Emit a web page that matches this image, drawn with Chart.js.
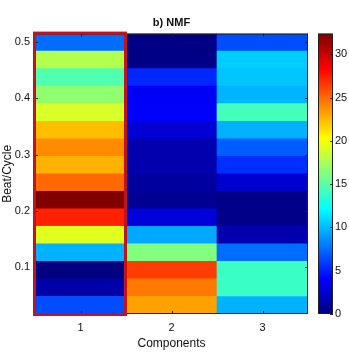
<!DOCTYPE html>
<html>
<head>
<meta charset="utf-8">
<script src="https://cdn.jsdelivr.net/npm/chart.js@4.4.1/dist/chart.umd.min.js"></script>
<style>
  html, body { margin: 0; padding: 0; background: #fff; }
  #wrap { position: relative; width: 349px; height: 354px; }
</style>
</head>
<body>
<div id="wrap"><canvas id="c" width="349" height="354"></canvas></div>
<script>
// x categories (NMF components)
var components = ['1', '2', '3'];
// row centres on the beat/cycle axis, bottom to top
var beats = [0.03125, 0.0625, 0.09375, 0.125, 0.15625, 0.1875, 0.21875, 0.25,
             0.28125, 0.3125, 0.34375, 0.375, 0.40625, 0.4375, 0.46875, 0.5];
// cell values per component, bottom to top
var comp1 = [6.5, 1.3, 0.0, 9.7, 19.3, 27.3, 32.4, 25.0, 22.7, 23.9, 22.3, 19.0, 16.7, 14.7, 17.8, 7.5];
var comp2 = [23.2, 24.5, 26.4, 16.2, 9.4, 2.8, 0.6, 1.0, 1.5, 1.4, 2.7, 4.0, 3.8, 5.3, 0.2, 0.2];
var comp3 = [9.7, 14.0, 14.0, 7.5, 1.4, 0.3, 0.3, 2.5, 5.5, 7.0, 9.7, 14.3, 9.8, 10.3, 10.6, 6.5];
var yTicks = [0.1, 0.2, 0.3, 0.4, 0.5];
var cbTicks = [0, 5, 10, 15, 20, 25, 30];
var cMin = 0, cMax = 32.4;

var FONT = "'Liberation Sans', Arial, sans-serif";
var INK = '#111';

function jetRGB(t) {
  t = Math.max(0, Math.min(1, t));
  function ch(x) { return Math.round(255 * Math.max(0, Math.min(1, 1.5 - Math.abs(4 * t - x)))); }
  return 'rgb(' + ch(3) + ',' + ch(2) + ',' + ch(1) + ')';
}
function jet(v) { return jetRGB((v - cMin) / (cMax - cMin)); }

var half = (beats[1] - beats[0]) / 2;
var cols = [comp1, comp2, comp3];

var datasets = beats.map(function (b, i) {
  return {
    data: components.map(function () { return [b - half, b + half]; }),
    backgroundColor: cols.map(function (col) { return jet(col[i]); }),
    borderWidth: 0,
    grouped: false,
    barPercentage: 1,
    categoryPercentage: 1,
    yAxisID: 'y'
  };
});

var decor = {
  id: 'decor',
  afterDatasetsDraw: function (chart) {
    var ctx = chart.ctx, a = chart.chartArea;
    var xs = chart.scales.x, ys = chart.scales.y, cb = chart.scales.cb;
    ctx.save();
    // axes box
    ctx.strokeStyle = '#222';
    ctx.lineWidth = 1;
    ctx.strokeRect(a.left + 0.5, a.top + 0.5, a.right - a.left - 1, a.bottom - a.top - 1);
    // inward ticks
    ctx.beginPath();
    yTicks.forEach(function (v) {
      var y = Math.round(ys.getPixelForValue(v)) + 0.5;
      ctx.moveTo(a.left, y); ctx.lineTo(a.left + 3, y);
      ctx.moveTo(a.right, y); ctx.lineTo(a.right - 3, y);
    });
    components.forEach(function (c, i) {
      var x = Math.round(xs.getPixelForValue(i)) + 0.5;
      ctx.moveTo(x, a.bottom); ctx.lineTo(x, a.bottom - 3);
      ctx.moveTo(x, a.top); ctx.lineTo(x, a.top + 3);
    });
    ctx.stroke();

    // highlight box round component 1
    var colW = xs.getPixelForValue(1) - xs.getPixelForValue(0);
    var x0 = xs.getPixelForValue(0) - colW / 2;
    ctx.strokeStyle = '#c4121c';
    ctx.lineWidth = 3;
    ctx.strokeRect(x0 - 0.5, a.top - 0.5, colW, a.bottom - a.top + 1);

    // colour bar
    var bx = a.right + 10, bw = 15;
    var top = cb.getPixelForValue(cMax), bot = cb.getPixelForValue(cMin);
    var g = ctx.createLinearGradient(0, bot, 0, top);
    for (var k = 0; k <= 32; k++) g.addColorStop(k / 32, jetRGB(k / 32));
    ctx.fillStyle = g;
    ctx.fillRect(bx, top, bw, bot - top);
    ctx.strokeStyle = '#222';
    ctx.lineWidth = 1;
    ctx.strokeRect(bx + 0.5, top + 0.5, bw - 1, bot - top - 1);
    ctx.beginPath();
    cbTicks.forEach(function (v) {
      var y = Math.round(cb.getPixelForValue(v)) + 0.5;
      ctx.moveTo(bx + bw, y); ctx.lineTo(bx + bw - 3, y);
    });
    ctx.stroke();
    ctx.restore();
  }
};

new Chart(document.getElementById('c'), {
  type: 'bar',
  data: { labels: components, datasets: datasets },
  options: {
    responsive: false,
    devicePixelRatio: 1,
    animation: false,
    layout: { padding: 0 },
    plugins: {
      legend: { display: false },
      tooltip: { enabled: false },
      title: {
        display: true,
        text: 'b) NMF',
        fullSize: false,
        color: INK,
        font: { family: FONT, size: 11, weight: 'bold' },
        padding: { top: 3, bottom: 3.8 }
      }
    },
    scales: {
      x: {
        type: 'category',
        offset: true,
        grid: { display: false, drawTicks: false },
        border: { display: false },
        ticks: { padding: 7, color: INK, font: { family: FONT, size: 11 } },
        title: { display: true, text: 'Components', color: INK,
                 font: { family: FONT, size: 12 }, padding: { top: 0, bottom: 3 } },
        afterFit: function (s) { s.height = 40; }
      },
      y: {
        type: 'linear',
        min: beats[0] - half,
        max: beats[beats.length - 1] + half,
        afterBuildTicks: function (s) { s.ticks = yTicks.map(function (v) { return { value: v }; }); },
        grid: { display: false, drawTicks: false },
        border: { display: false },
        ticks: { padding: 5, color: INK, font: { family: FONT, size: 11 } },
        title: { display: true, text: 'Beat/Cycle', color: INK,
                 font: { family: FONT, size: 12 }, padding: { top: 0, bottom: 0 } },
        afterFit: function (s) { s.width = 35; }
      },
      cb: {
        type: 'linear',
        position: 'right',
        min: cMin,
        max: cMax,
        afterBuildTicks: function (s) { s.ticks = cbTicks.map(function (v) { return { value: v }; }); },
        grid: { display: false, drawTicks: false },
        border: { display: false },
        ticks: { padding: 27, color: INK, font: { family: FONT, size: 11 } },
        afterFit: function (s) { s.width = 41; }
      }
    }
  },
  plugins: [decor]
});
</script>
</body>
</html>
